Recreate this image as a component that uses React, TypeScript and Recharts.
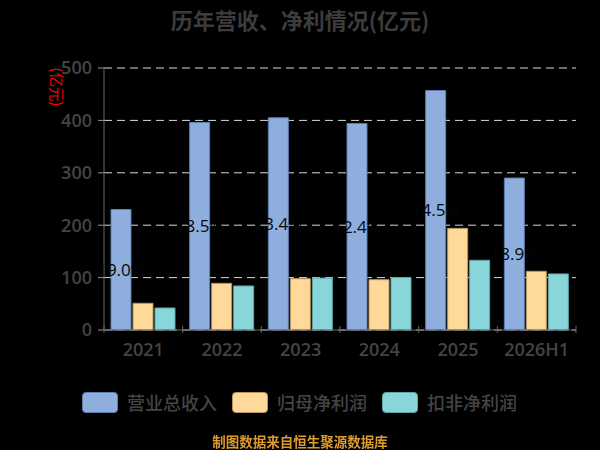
import React from "react";
import { BarChart, Bar, XAxis, YAxis, CartesianGrid, LabelList } from "recharts";

const categories = ["2021", "2022", "2023", "2024", "2025", "2026H1"];
const revenue = [230, 396, 405, 394, 457, 290];
const netProfit = [51, 89, 98, 96, 194, 112];
const deductedProfit = [42, 84, 99, 100, 133, 107];
const barLabels = ["19.0%", "18.5%", "13.4%", "12.4%", "14.5%", "18.9%"];
const yTicks = [0, 100, 200, 300, 400, 500];

const series = [
  { key: "revenue", name: "营业总收入", fill: "#8eaede", stroke: "#5d7fb3" },
  { key: "netProfit", name: "归母净利润", fill: "#ffd999", stroke: "#b8955a" },
  { key: "deducted", name: "扣非净利润", fill: "#88d6d9", stroke: "#5aa8ab" },
];

const data = categories.map((c, i) => ({
  name: c,
  revenue: revenue[i],
  netProfit: netProfit[i],
  deducted: deductedProfit[i],
  label: barLabels[i],
}));

const FONT = '"Open Sans", "Noto Sans CJK SC", sans-serif';
const CJK = '"Noto Sans CJK SC", sans-serif';
const W = 600;
const H = 450;
const MARGIN = { top: 68, right: 24, left: 0, bottom: 90 };
const Y_WIDTH = 104;
const BAND = (W - MARGIN.left - MARGIN.right - Y_WIDTH) / categories.length;

function XTick(props: any) {
  const { x, y, payload, index } = props;
  const axisY = y - 6;
  const half = BAND / 2;
  const last = index === categories.length - 1;
  return (
    <g>
      <line x1={x - half} y1={axisY - 6} x2={x - half} y2={axisY + 1} stroke="#666" />
      {last && <line x1={x + half} y1={axisY - 6} x2={x + half} y2={axisY + 1} stroke="#666" />}
      <text x={x} y={axisY + 24} textAnchor="middle" fill="#444" fontSize={18} fontWeight={600} fontFamily={FONT}>
        {payload.value}
      </text>
    </g>
  );
}

export default function App() {
  return (
    <div style={{ position: "fixed", left: 0, top: 0, width: W, height: H, background: "#000", fontFamily: FONT }}>
      <div style={{ position: "absolute", top: 3, left: 0, width: W, textAlign: "center", fontSize: 22, fontWeight: 700, color: "#3c3c3c", fontFamily: CJK }}>
        历年营收、净利情况(亿元)
      </div>
      <BarChart width={W} height={H} data={data} margin={MARGIN} barSize={20} barGap={2}>
        <CartesianGrid vertical={false} stroke="#d9d9d9" strokeDasharray="8 5" />
        <XAxis
          dataKey="name"
          axisLine={{ stroke: "#666" }}
          tickLine={false}
          tick={<XTick />}
          height={30}
          interval={0}
        />
        <YAxis
          width={Y_WIDTH}
          domain={[0, 500]}
          ticks={yTicks}
          axisLine={{ stroke: "#666" }}
          tickLine={{ stroke: "#999" }}
          tickSize={6}
          tickMargin={6}
          tick={{ fill: "#444", fontSize: 18, fontWeight: 600, fontFamily: FONT }}
          label={{
            value: "(亿元)",
            content: () => (
              <text
                x={57}
                y={87}
                transform="rotate(90 57 87)"
                textAnchor="middle"
                dominantBaseline="central"
                fill="#ff0000"
                fontSize={14.5}
                fontFamily={CJK}
              >
                (亿元)
              </text>
            ),
          }}
        />
        {series.map((s) => (
          <Bar key={s.key} dataKey={s.key} name={s.name} fill={s.fill} stroke={s.stroke} strokeWidth={1} isAnimationActive={false}>
            {s.key === "revenue" && (
              <LabelList dataKey="label" position="center" fill="#060606" fontSize={17} fontFamily={FONT} />
            )}
          </Bar>
        ))}
      </BarChart>
      <div style={{ position: "absolute", top: 389, left: 82, display: "flex", alignItems: "center" }}>
        {series.map((s) => (
          <div key={s.key} style={{ display: "flex", alignItems: "center", marginRight: 15 }}>
            <div style={{ width: 36, height: 21, background: s.fill, border: `1px solid ${s.stroke}`, borderRadius: 4, boxSizing: "border-box", marginRight: 9 }} />
            <span style={{ fontSize: 18, color: "#444", fontWeight: 500, fontFamily: CJK }}>{s.name}</span>
          </div>
        ))}
      </div>
      <div style={{ position: "absolute", top: 431, left: 0, width: W, textAlign: "center", fontSize: 13.5, fontWeight: 700, color: "#dc9b2c", fontFamily: CJK }}>
        制图数据来自恒生聚源数据库
      </div>
    </div>
  );
}
